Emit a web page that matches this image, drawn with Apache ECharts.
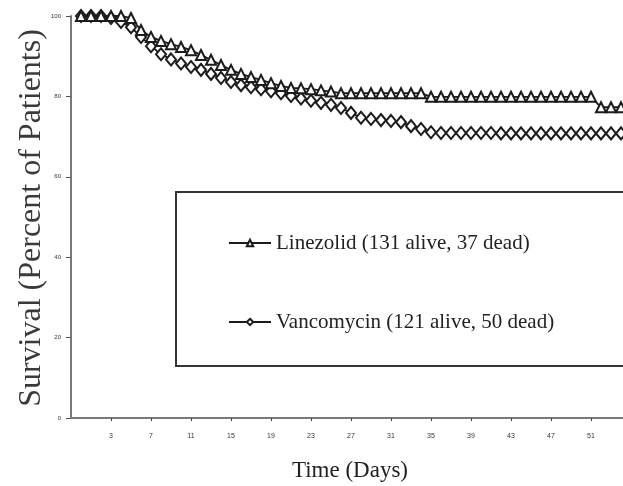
<!DOCTYPE html>
<html>
<head>
<meta charset="utf-8">
<script src="https://cdn.jsdelivr.net/npm/echarts@6/dist/echarts.min.js"></script>
<style>
  html, body { margin: 0; padding: 0; background: #fff; }
  #chart { width: 623px; height: 486px; }
</style>
</head>
<body>
<div id="chart"></div>
<script>
// Kaplan-Meier style survival curves, one value per day (day 0 onward)
const days = Array.from({ length: 56 }, (_, i) => i);

const linezolidSurvival = [
  100, 100, 100, 100, 100, 99.5, 96.5, 94.8, 93.8, 93.0,
  92.3, 91.5, 90.3, 89.1, 87.8, 86.6, 85.6, 84.8, 84.1, 83.3,
  82.6, 82.1, 82.0, 81.8, 81.5, 81.2, 80.8, 80.8, 80.8, 80.8,
  80.8, 80.8, 80.8, 80.8, 80.8, 79.9, 79.9, 79.9, 79.9, 79.9,
  79.9, 79.9, 79.9, 79.9, 79.9, 79.9, 79.9, 79.9, 79.9, 79.9,
  79.9, 79.9, 77.3, 77.3, 77.3, 77.3
];

const vancomycinSurvival = [
  100, 100, 100, 99.5, 98.5, 97.2, 94.8, 92.5, 90.5, 89.2,
  88.2, 87.3, 86.6, 85.6, 84.6, 83.6, 82.8, 82.3, 81.8, 81.3,
  80.8, 80.1, 79.5, 78.9, 78.4, 77.9, 77.1, 75.9, 74.7, 74.4,
  74.1, 73.9, 73.6, 72.6, 71.9, 71.1, 70.9, 70.9, 70.9, 70.9,
  70.9, 70.9, 70.8, 70.8, 70.8, 70.8, 70.8, 70.8, 70.8, 70.8,
  70.8, 70.8, 70.8, 70.8, 70.8, 70.8
];

const seriesNames = ['Linezolid (131 alive, 37 dead)', 'Vancomycin (121 alive, 50 dead)'];
const xTickDays = [3, 7, 11, 15, 19, 23, 27, 31, 35, 39, 43, 47, 51];
const yTicks = [0, 20, 40, 60, 80, 100];

const toPairs = vals => days.map((d, i) => [d, vals[i]]);

const chart = echarts.init(document.getElementById('chart'), null, { renderer: 'canvas' });

const serif = '"Liberation Serif", "Times New Roman", serif';
const ink = '#1c1c1c';

chart.setOption({
  animation: false,
  backgroundColor: '#ffffff',
  grid: { left: 71, top: 16, right: 0, height: 402, containLabel: false },
  xAxis: {
    type: 'value',
    min: -1,
    max: 54.2,
    axisLine: { show: true, onZero: false, lineStyle: { color: '#7a7a7a', width: 2 } },
    axisTick: { show: true, customValues: xTickDays, length: 3, lineStyle: { color: '#444', width: 1 } },
    axisLabel: {
      customValues: xTickDays,
      fontSize: 7, color: '#333', margin: 15,
      fontFamily: '"Liberation Sans", Arial, sans-serif'
    },
    splitLine: { show: false }
  },
  yAxis: {
    type: 'value',
    min: 0,
    max: 100,
    interval: 20,
    axisLine: { show: true, onZero: false, lineStyle: { color: '#7a7a7a', width: 2 } },
    axisTick: { show: true, length: 5, lineStyle: { color: '#555', width: 1 } },
    axisLabel: {
      fontSize: 6, color: '#333', margin: 10,
      fontFamily: '"Liberation Sans", Arial, sans-serif',
      formatter: v => (yTicks.includes(v) ? String(v) : '')
    },
    splitLine: { show: false }
  },
  legend: {
    orient: 'vertical',
    left: 176,
    top: 192,
    padding: [39, 80, 32, 52],
    itemGap: 55,
    itemWidth: 42,
    itemHeight: 8,
    borderColor: '#333',
    borderWidth: 2,
    backgroundColor: '#fff',
    textStyle: { fontFamily: serif, fontSize: 21, color: '#222', lineHeight: 24 },
    data: seriesNames
  },
  graphic: [
    {
      type: 'text',
      x: 32, y: 218,
      rotation: Math.PI / 2,
      style: {
        text: 'Survival (Percent of Patients)',
        font: '32px ' + serif,
        fill: '#3a3a3a',
        align: 'center',
        verticalAlign: 'middle'
      }
    },
    {
      type: 'text',
      x: 350, y: 471,
      style: {
        text: 'Time (Days)',
        font: '23px ' + serif,
        fill: '#222',
        align: 'center',
        verticalAlign: 'middle'
      }
    }
  ],
  series: [
    {
      name: seriesNames[0],
      type: 'line',
      data: toPairs(linezolidSurvival),
      symbol: 'emptyTriangle',
      symbolSize: [10, 10],
      showAllSymbol: true,
      clip: true,
      lineStyle: { color: ink, width: 1.8 },
      itemStyle: { color: ink, borderColor: ink, borderWidth: 2 },
      z: 3
    },
    {
      name: seriesNames[1],
      type: 'line',
      data: toPairs(vancomycinSurvival),
      symbol: 'emptyDiamond',
      symbolSize: [10, 12],
      showAllSymbol: true,
      clip: true,
      lineStyle: { color: ink, width: 1.8 },
      itemStyle: { color: ink, borderColor: ink, borderWidth: 2 },
      z: 2
    }
  ]
});
</script>
</body>
</html>
